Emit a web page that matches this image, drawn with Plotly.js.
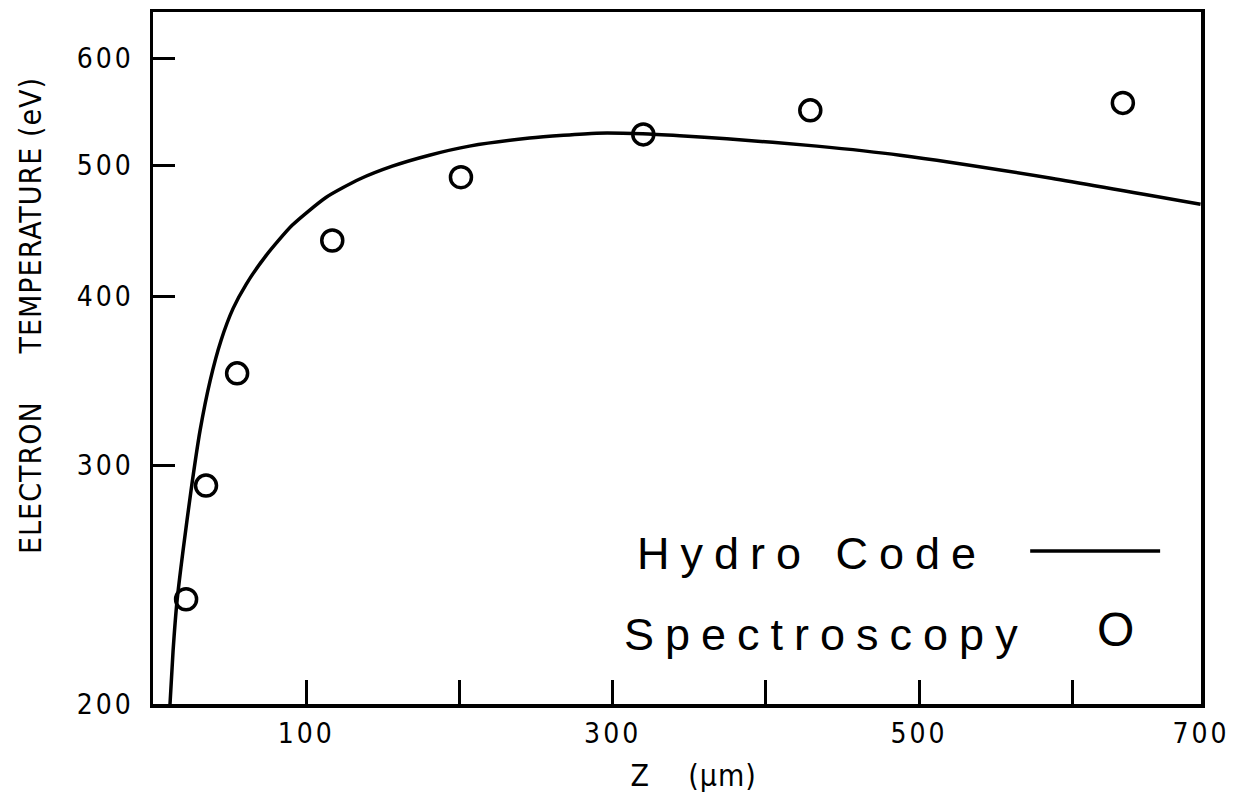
<!DOCTYPE html>
<html>
<head>
<meta charset="utf-8">
<script src="https://cdn.plot.ly/plotly-3.0.1.min.js"></script>
<style>
  html, body { margin: 0; padding: 0; background: #fff; }
  #chart { width: 1243px; height: 797px; }
  g.xtick text, g.ytick text { letter-spacing: 3px; }
  g.annotation[data-index="0"] text, g.annotation[data-index="1"] text { letter-spacing: 11px; }
  g.annotation[data-index="3"] text, g.annotation[data-index="4"] text { letter-spacing: 1px; }
</style>
</head>
<body>
<div id="chart"></div>
<script>
// Hydro code simulation (solid line)
const hydroZ = [11.1, 13.1, 15.7, 19.6, 24.8, 30.7, 37.3, 44.4, 52.3, 60.8, 73.9, 90.8, 113.1, 134.6, 156.2, 180.4, 206.5, 245.8, 289.5, 319.6, 343.8, 374.5, 433.3, 487.6, 586.3, 683.7];
const hydroT = [200, 218.9, 238.4, 259.6, 287.5, 318.4, 346.7, 371.2, 392, 408.4, 429, 451.5, 473.6, 488.3, 499.3, 508.7, 516.6, 523.7, 528.1, 527.6, 525.9, 523.2, 516.6, 508.7, 489.2, 468];

// Spectroscopy measurements (open circles)
const specZ = [21.6, 34.6, 54.9, 117, 201, 320, 429, 633];
const specT = [239, 290, 351, 440, 490, 527, 549, 556];

// Axis ticks
const xTickVals = [100, 200, 300, 400, 500, 600, 684];
const xTickText = ['100', '', '300', '', '500', '', '700'];
const yTickVals = [200, 300, 400, 500, 600];
const yTickText = ['200', '300', '400', '500', '600'];

const condFamily = 'DejaVu Sans Condensed, Liberation Sans Narrow, Arial Narrow, sans-serif';
const tickFont = { family: condFamily, size: 28, color: '#000' };
const titleFont = { family: condFamily, size: 30, color: '#000' };
const legendFont = { family: 'Liberation Sans, Arial, Helvetica, sans-serif', size: 45, color: '#000' };

const traces = [
  {
    x: hydroZ, y: hydroT, type: 'scatter', mode: 'lines',
    line: { color: '#000', width: 3.5, shape: 'spline', smoothing: 0.6 },
    showlegend: false, hoverinfo: 'skip'
  },
  {
    x: specZ, y: specT, type: 'scatter', mode: 'markers',
    marker: { symbol: 'circle-open', size: 21, color: '#000', line: { width: 3.5, color: '#000' } },
    showlegend: false, hoverinfo: 'skip'
  }
];

const layout = {
  width: 1243, height: 797,
  margin: { l: 153, r: 42, t: 12, b: 93 },
  paper_bgcolor: '#fff', plot_bgcolor: '#fff',
  showlegend: false,
  xaxis: {
    range: [0, 684],
    tickmode: 'array', tickvals: xTickVals, ticktext: xTickText,
    ticks: 'inside', ticklen: 24, tickwidth: 3, tickcolor: '#000',
    showline: true, mirror: true, linewidth: 3.5, linecolor: '#000',
    showgrid: false, zeroline: false,
    tickfont: tickFont,
    ticklabelstandoff: 2
  },
  yaxis: {
    type: 'log',
    range: [Math.log10(200), Math.log10(649)],
    tickmode: 'array', tickvals: yTickVals, ticktext: yTickText,
    ticks: 'inside', ticklen: 22, tickwidth: 3, tickcolor: '#000',
    showline: true, mirror: true, linewidth: 3.5, linecolor: '#000',
    showgrid: false, zeroline: false,
    tickfont: tickFont,
    ticklabelstandoff: 10
  },
  annotations: [
    { xref: 'paper', yref: 'paper', x: 0.629, y: 0.218, text: 'Hydro Code', showarrow: false, font: legendFont, xanchor: 'center', yanchor: 'middle' },
    { xref: 'paper', yref: 'paper', x: 0.643, y: 0.100, text: 'Spectroscopy', showarrow: false, font: legendFont, xanchor: 'center', yanchor: 'middle' },
    { xref: 'paper', yref: 'paper', x: 0.918, y: 0.107, text: 'O', showarrow: false, font: { family: legendFont.family, size: 48, color: '#000' }, xanchor: 'center', yanchor: 'middle' },
    { xref: 'paper', yref: 'paper', x: -0.117, y: 0.562, text: 'ELECTRON     TEMPERATURE (eV)', textangle: -90, showarrow: false, font: titleFont, xanchor: 'center', yanchor: 'middle' },
    { xref: 'paper', yref: 'paper', x: 0.516, y: -0.104, text: 'Z    (\u03bcm)', showarrow: false, font: titleFont, xanchor: 'center', yanchor: 'middle' }
  ],
  shapes: [
    { type: 'line', xref: 'paper', yref: 'paper', x0: 0.837, x1: 0.961, y0: 0.221, y1: 0.221, line: { color: '#000', width: 3.5 } }
  ]
};

Plotly.newPlot('chart', traces, layout, { staticPlot: true, displayModeBar: false });
</script>
</body>
</html>
